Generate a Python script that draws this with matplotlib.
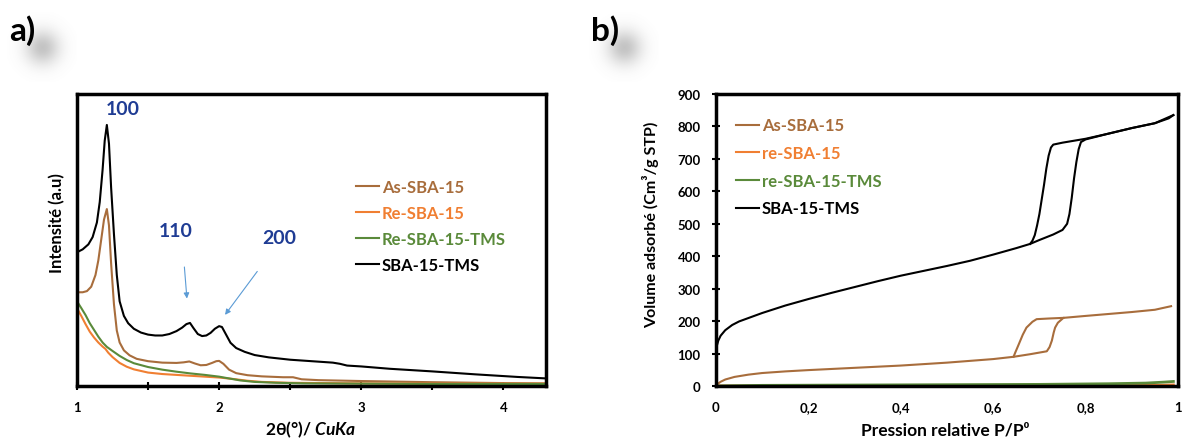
import numpy as np
import matplotlib
matplotlib.use("Agg")
import matplotlib.pyplot as plt

plt.rcParams['font.family'] = ['Lato', 'DejaVu Sans']
plt.rcParams['font.weight'] = 'bold'
plt.rcParams['mathtext.fontset'] = 'custom'
plt.rcParams['mathtext.it'] = 'Lato:italic:bold'
plt.rcParams['mathtext.rm'] = 'Lato:bold'

# ---- a) XRD data (2theta, arbitrary intensity) ----
as_x = [1.00, 1.04, 1.07, 1.10, 1.13, 1.15, 1.17, 1.19, 1.21, 1.225, 1.24, 1.26, 1.28, 1.30,
        1.33, 1.37, 1.42, 1.50, 1.60, 1.70, 1.75, 1.79, 1.83, 1.87, 1.91, 1.95, 1.98, 2.00,
        2.03, 2.07, 2.12, 2.20, 2.30, 2.45, 2.52, 2.58, 2.70, 3.00, 3.50, 4.00, 4.30]
as_y = [32.1, 32.1, 32.5, 34, 38, 43, 50, 57, 60.6, 55, 42, 28, 19, 14.9,
        12.2, 10.5, 9.3, 8.5, 8.0, 7.9, 8.1, 8.4, 7.7, 7.1, 7.2, 7.9, 8.5, 8.6,
        7.6, 5.6, 4.4, 3.7, 3.3, 3.0, 3.0, 2.3, 2.0, 1.7, 1.3, 1.0, 0.9]

re_x = [1.00, 1.03, 1.06, 1.09, 1.12, 1.15, 1.18, 1.20, 1.22, 1.25, 1.30, 1.35, 1.40, 1.50,
        1.60, 1.80, 2.00, 2.10, 2.20, 2.30, 2.50, 3.00, 3.50, 4.00, 4.30]
re_y = [26.6, 24.0, 21.2, 18.6, 16.6, 14.9, 13.5, 12.7, 11.4, 9.9, 7.9, 6.6, 5.7, 4.6,
        4.1, 3.5, 2.9, 2.4, 1.8, 1.4, 1.1, 0.9, 0.8, 0.8, 0.8]

retms_x = [1.00, 1.03, 1.06, 1.09, 1.12, 1.15, 1.18, 1.21, 1.25, 1.30, 1.35, 1.40, 1.50, 1.60,
           1.70, 1.80, 1.90, 2.00, 2.08, 2.15, 2.25, 2.40, 2.60, 3.00, 3.50, 4.00, 4.30]
retms_y = [29.0, 26.7, 24.3, 21.5, 19.2, 16.9, 14.9, 13.4, 12.0, 10.3, 8.9, 7.8, 6.5, 5.6,
           4.9, 4.3, 3.8, 3.2, 2.5, 1.9, 1.4, 1.1, 0.9, 0.8, 0.7, 0.7, 0.7]

tms_x = [1.00, 1.04, 1.08, 1.11, 1.14, 1.16, 1.18, 1.195, 1.21, 1.225, 1.24, 1.26, 1.28, 1.30,
         1.33, 1.36, 1.40, 1.45, 1.50, 1.55, 1.60, 1.65, 1.70, 1.74, 1.77, 1.795, 1.82, 1.85,
         1.88, 1.91, 1.94, 1.97, 2.00, 2.02, 2.05, 2.08, 2.12, 2.18, 2.25, 2.35, 2.50, 2.65,
         2.80, 2.85, 2.90, 3.00, 3.20, 3.50, 3.80, 4.10, 4.30]
tms_y = [45.8, 46.8, 48.5, 51, 56, 63, 74, 84, 89.4, 83, 68, 52, 38, 29,
         24, 21.5, 19.6, 18.3, 17.6, 17.3, 17.3, 17.8, 18.8, 20.0, 21.2, 21.6, 19.8, 17.8,
         17.1, 17.3, 18.2, 19.6, 20.5, 20.2, 17.5, 14.8, 13.0, 11.7, 10.6, 9.8, 9.0, 8.5,
         8.0, 7.6, 7.0, 6.7, 5.9, 5.0, 4.0, 3.1, 2.6]

xrd_labels = ["As-SBA-15", "Re-SBA-15", "Re-SBA-15-TMS", "SBA-15-TMS"]
peak_labels = ["100", "110", "200"]

# ---- b) N2 isotherms (P/P0, cm3/g STP) ----
as_ads_p = [0, 0.005, 0.01, 0.02, 0.04, 0.07, 0.10, 0.15, 0.20, 0.30, 0.40, 0.50, 0.60, 0.644,
            0.68, 0.716, 0.722, 0.727, 0.731, 0.734, 0.74, 0.752, 0.80, 0.85, 0.90, 0.95, 0.985]
as_ads_v = [0, 8, 13, 20, 28, 35, 40, 45, 49, 56, 63, 72, 83, 90,
            98, 107, 120, 140, 165, 180, 195, 210, 216, 222, 228, 235, 246]
as_des_p = [0.752, 0.72, 0.694, 0.685, 0.672, 0.664, 0.654, 0.648, 0.644]
as_des_v = [210, 208, 206, 198, 180, 158, 124, 104, 90]

re_p = [0, 0.3, 0.6, 0.9, 0.97, 0.99]
re_v = [0, 0.5, 1, 1.5, 2.5, 3.5]

retms_p = [0, 0.1, 0.3, 0.5, 0.7, 0.85, 0.93, 0.97, 0.99]
retms_v = [0, 2, 3, 4, 5, 7, 9, 12, 14]

tms_ads_p = [0.000, 0.002, 0.005, 0.01, 0.02, 0.035, 0.05, 0.075, 0.10, 0.15, 0.20, 0.25,
             0.30, 0.35, 0.40, 0.45, 0.50, 0.55, 0.60, 0.65, 0.68, 0.70, 0.73, 0.75, 0.76,
             0.765, 0.77, 0.775, 0.78, 0.785, 0.79, 0.80, 0.85, 0.90, 0.95, 0.98, 0.99]
tms_ads_v = [100, 125, 140, 155, 172, 188, 199, 212, 225, 248, 268, 287,
             305, 323, 340, 355, 370, 386, 405, 425, 438, 450, 467, 481, 500,
             530, 580, 640, 690, 730, 752, 760, 778, 795, 810, 825, 835]
tms_des_p = [0.99, 0.95, 0.90, 0.85, 0.80, 0.75, 0.73, 0.725, 0.72, 0.715, 0.71, 0.705, 0.70,
             0.695, 0.69, 0.685, 0.68]
tms_des_v = [835, 810, 795, 778, 762, 750, 744, 735, 710, 670, 620, 575, 530,
             495, 465, 448, 438]

iso_labels = ["As-SBA-15", "re-SBA-15", "re-SBA-15-TMS", "SBA-15-TMS"]

BROWN = "#A86D3C"
ORANGE = "#F07F32"
GREEN = "#5A8A3A"
BLACK = "#000000"
NAVY = "#1F3C94"
ARROW = "#5B9BD5"

fig = plt.figure(figsize=(11.83, 4.39), dpi=100)
ax1 = fig.add_axes([77 / 1183, 52 / 439, 469 / 1183, 292 / 439])
ax2 = fig.add_axes([716 / 1183, 52 / 439, 462 / 1183, 292 / 439])

# ---- panel a ----
lw = 1.5
ax1.plot(as_x, as_y, color=BROWN, lw=lw, label=xrd_labels[0])
ax1.plot(re_x, re_y, color=ORANGE, lw=lw, label=xrd_labels[1])
ax1.plot(retms_x, retms_y, color=GREEN, lw=lw, label=xrd_labels[2])
ax1.plot(tms_x, tms_y, color=BLACK, lw=lw, label=xrd_labels[3])
ax1.set_xlim(1, 4.3)
ax1.set_ylim(0, 100)
ax1.set_yticks([])
xt = np.arange(1, 4.01, 0.5)
ax1.set_xticks(xt)
ax1.set_xticklabels([f"{t:g}" if t == int(t) else "" for t in xt])
ax1.tick_params(axis='x', direction='inout', length=6, width=1.5, pad=8, labelsize=9.5)
ax1.set_xlabel(r"2θ(°)/ $CuKa$", fontsize=12.5, fontweight='bold', va='center')
ax1.xaxis.set_label_coords(0.498, -0.148)
ax1.set_ylabel("Intensité (a.u)", fontsize=12, fontweight='bold', va='center')
ax1.yaxis.set_label_coords(-0.043, 0.56)

ax1.text(1.20, 95.0, peak_labels[0], color=NAVY, fontsize=14, fontweight='bold', va='center')
ax1.text(1.694, 53.1, peak_labels[1], color=NAVY, fontsize=14, fontweight='bold', va='center', ha='center')
ax1.text(2.423, 50.9, peak_labels[2], color=NAVY, fontsize=14, fontweight='bold', va='center', ha='center')
ax1.annotate("", xy=(1.775, 29.0), xytext=(1.754, 41.7),
             arrowprops=dict(arrowstyle='-|>', color=ARROW, lw=0.8, mutation_scale=8))
ax1.annotate("", xy=(2.03, 23.6), xytext=(2.28, 40.0),
             arrowprops=dict(arrowstyle='-|>', color=ARROW, lw=0.8, mutation_scale=8))

ax1.legend(loc='upper left', bbox_to_anchor=(0.595, 0.71), frameon=False,
           handlelength=1.4, handletextpad=0.15, labelspacing=0.6,
           borderpad=0, borderaxespad=0, labelcolor='linecolor',
           prop={'size': 12, 'weight': 'bold'})

# ---- panel b ----
ax2.plot(as_ads_p, as_ads_v, color=BROWN, lw=lw, label=iso_labels[0])
ax2.plot(as_des_p, as_des_v, color=BROWN, lw=lw)
ax2.plot(re_p, re_v, color=ORANGE, lw=2, label=iso_labels[1])
ax2.plot(retms_p, retms_v, color=GREEN, lw=2, label=iso_labels[2])
ax2.plot(tms_ads_p, tms_ads_v, color=BLACK, lw=lw, label=iso_labels[3])
ax2.plot(tms_des_p, tms_des_v, color=BLACK, lw=lw)
ax2.set_xlim(0, 1)
ax2.set_ylim(0, 900)
ax2.set_yticks(np.arange(0, 901, 100))
ax2.set_xticks(np.arange(0, 1.01, 0.2))
ax2.set_xticklabels(["0", "0,2", "0,4", "0,6", "0,8", "1"])
ax2.tick_params(axis='y', direction='inout', length=6, width=1.5, pad=8, labelsize=9.5)
ax2.tick_params(axis='x', length=0, pad=11, labelsize=9.5)
ax2.set_xlabel("Pression relative P/P⁰", fontsize=12.5, fontweight='bold', va='center')
ax2.xaxis.set_label_coords(0.497, -0.148)
ax2.set_ylabel("Volume adsorbé (Cm³/g STP)", fontsize=11.5, fontweight='bold', va='center')
ax2.yaxis.set_label_coords(-0.141, 0.555)

leg2 = ax2.legend(loc='upper left', bbox_to_anchor=(0.043, 0.92), frameon=False,
                  handlelength=1.4, handletextpad=0.15, labelspacing=0.7,
                  borderpad=0, borderaxespad=0, labelcolor='linecolor',
                  prop={'size': 12, 'weight': 'bold'})
for h in leg2.get_lines():
    h.set_linewidth(1.5)

for ax in (ax1, ax2):
    for s in ax.spines.values():
        s.set_linewidth(2.5)
        s.set_color('black')
    for lab in ax.get_xticklabels() + ax.get_yticklabels():
        lab.set_fontweight('bold')

# soft grey glow behind the panel letters
yy, xx = np.mgrid[0:70, 0:70]
glow = np.exp(-((xx - 35) ** 2 + (yy - 35) ** 2) / (2 * 12.0 ** 2))
rgba = np.zeros((70, 70, 4))
rgba[..., :3] = 0.45
rgba[..., 3] = 0.42 * glow
fig.figimage(rgba, xo=7, yo=439 - 13 - 70, origin='upper', zorder=0)
fig.figimage(rgba, xo=589, yo=439 - 13 - 70, origin='upper', zorder=0)

fig.text(9 / 1183, 1 - 31 / 439, "a)", fontsize=24, fontweight='bold', va='center', ha='left')
fig.text(591 / 1183, 1 - 31 / 439, "b)", fontsize=24, fontweight='bold', va='center', ha='left')

fig.savefig("out.png", dpi=100)
